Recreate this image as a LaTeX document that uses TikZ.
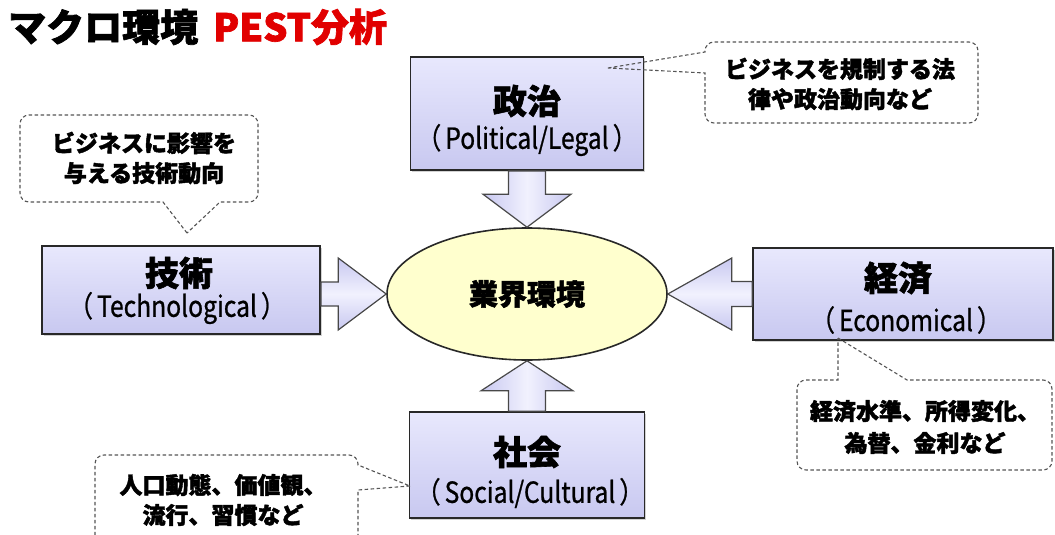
\documentclass[tikz,border=0pt]{standalone}
\usepackage{fontspec}
\setmainfont{Noto Sans CJK JP}
\newfontfamily\jphv{Noto Sans CJK JP}[BoldFeatures={FakeBold=1.8}]
\newfontfamily\latnfont{Noto Sans CJK JP}[FakeStretch=0.85,FakeBold=0.8]
\usetikzlibrary{calc,shadows,shapes.geometric}
\definecolor{lav}{RGB}{200,200,240}
\definecolor{lavL}{RGB}{232,232,253}
\definecolor{edgec}{RGB}{40,40,40}
\definecolor{yel}{RGB}{255,255,206}
\definecolor{dashc}{RGB}{85,85,85}
\definecolor{titlered}{RGB}{225,0,0}
\newcommand\pgap{\hspace{4pt}}
\begin{document}
\begin{tikzpicture}[x=1pt,y=-1pt,
  pbox/.style={draw=edgec, line width=1.8pt, top color=lavL, bottom color=lav,
    inner sep=0pt, drop shadow={shadow xshift=1.5pt,shadow yshift=-1.5pt,opacity=0.35}},
  bigjp/.style={font=\fontsize{34}{38}\selectfont\jphv\bfseries, inner sep=0pt},
  latn/.style={font=\fontsize{29}{32}\selectfont\latnfont, inner sep=0pt},
  ctext/.style={font=\fontsize{23}{30}\selectfont\jphv\bfseries, align=center, inner sep=0pt},
  callout/.style={draw=dashc, line width=1.1pt, dash pattern=on 3.5pt off 2.5pt},
  barrowV/.style={draw=edgec!85, line width=1.2pt, left color=lav, right color=lav, middle color=lavL!60!white},
  barrowH/.style={draw=edgec!85, line width=1.2pt, top color=lav, bottom color=lav, middle color=lavL!60!white},
  envstyle/.style={ellipse, draw=edgec, line width=1.6pt, fill=yel, minimum width=280pt, minimum height=132pt,
    inner sep=0pt, font=\fontsize{29}{32}\selectfont\jphv\bfseries}
]
\useasboundingbox (0,0) rectangle (1055,535);
\fill[white] (0,0) rectangle (1055,535);

% title
\node[anchor=west, inner sep=0pt, font=\fontsize{38}{42}\selectfont\jphv\bfseries] (title1) at (8,27) {マクロ環境};
\node[anchor=west, inner sep=0pt, text=titlered, font=\fontsize{38}{42}\selectfont\jphv\bfseries] (title2) at (213,27) {PEST分析};

% central ellipse
\node[envstyle] (env) at (527,294) {業界環境};

% four boxes
\node[pbox, minimum width=233pt, minimum height=113pt] (pol) at (527,113.5) {};
\node[pbox, minimum width=278pt, minimum height=88pt] (tec) at (181,290) {};
\node[pbox, minimum width=300pt, minimum height=92pt] (eco) at (903,294) {};
\node[pbox, minimum width=235pt, minimum height=106pt] (soc) at (527,465) {};

% box labels
\node[bigjp] (polA) at (527,101) {政治};
\node[latn] (polB) at (527,140) {（\pgap Political/Legal\pgap）};
\node[bigjp] (tecA) at (179,273) {技術};
\node[latn] (tecB) at (177,308) {（\pgap Technological\pgap）};
\node[bigjp] (ecoA) at (898,278) {経済};
\node[latn] (ecoB) at (906,320) {（\pgap Economical\pgap）};
\node[bigjp] (socA) at (527,452) {社会};
\node[latn] (socB) at (530,493) {（\pgap Social/Cultural\pgap）};

% block arrows
\draw[barrowV] (env.north) -- ($(env.north)+(-44,-33)$) -- ($(env.north)+(-18.5,-33)$)
  -- ($(pol.south)+(-18.5,0)$) -- ($(pol.south)+(18.5,0)$) -- ($(env.north)+(18.5,-33)$)
  -- ($(env.north)+(44,-33)$) -- cycle;
\draw[barrowV] (env.south) -- ($(env.south)+(-46,30)$) -- ($(env.south)+(-18.5,30)$)
  -- ($(soc.north)+(-18.5,0)$) -- ($(soc.north)+(18.5,0)$) -- ($(env.south)+(18.5,30)$)
  -- ($(env.south)+(46,30)$) -- cycle;
\path (tec.east |- env.west) coordinate (lb);
\draw[barrowH] (env.west) -- ($(env.west)+(-48,-36)$) -- ($(env.west)+(-48,-12)$)
  -- ($(lb)+(0,-12)$) -- ($(lb)+(0,12)$) -- ($(env.west)+(-48,12)$)
  -- ($(env.west)+(-48,36)$) -- cycle;
\path (eco.west |- env.east) coordinate (rb);
\draw[barrowH] (env.east) -- ($(env.east)+(64,-36)$) -- ($(env.east)+(64,-12.5)$)
  -- ($(rb)+(0,-12.5)$) -- ($(rb)+(0,12.5)$) -- ($(env.east)+(64,12.5)$)
  -- ($(env.east)+(64,36)$) -- cycle;

% callouts
\draw[callout] (608,68) -- (705,52) [rounded corners=9pt] -- (705,42) -- (978,42) -- (978,123)
  -- (705,123) [sharp corners] -- (705,73) -- cycle;
\node[ctext] (cTR) at (840,84) {ビジネスを規制する法\\律や政治動向など};

\draw[callout] (187,233) -- (163,202) [rounded corners=9pt] -- (20,202) -- (20,115) -- (258,115)
  -- (258,202) [sharp corners] -- (220,202) -- cycle;
\node[ctext] (cTL) at (144,158) {ビジネスに影響を\\与える技術動向};

\draw[callout] (838,338) -- (907,380) [rounded corners=9pt] -- (1052,380) -- (1052,470) -- (797,470)
  -- (797,380) [sharp corners] -- (838,380) -- cycle;
\node[ctext, font=\fontsize{23}{32}\selectfont\jphv\bfseries] (cBR) at (925,427) {経済水準、所得変化、\\為替、金利など};

\draw[callout] (410,486) -- (358,490) [rounded corners=9pt] -- (358,548) -- (95,548) -- (95,455)
  -- (358,455) [sharp corners] -- (358,465) -- cycle;
\node[ctext] (cBL) at (223,500) {人口動態、価値観、\\流行、習慣など};
\end{tikzpicture}
\end{document}
